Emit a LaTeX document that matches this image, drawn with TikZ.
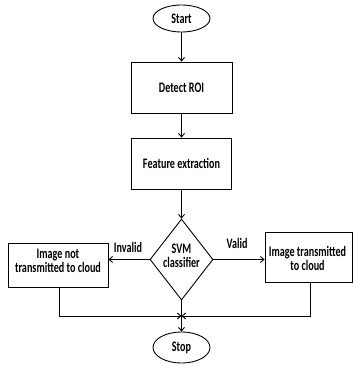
\documentclass[tikz,border=0pt]{standalone}
\usepackage{fontspec}
\setmainfont{Carlito}[FakeStretch=0.7]
\usetikzlibrary{shapes.geometric,arrows.meta}
\tikzset{
  base/.style={draw, line width=0.9pt, inner sep=0pt, align=center,
    font=\fontsize{14.5}{14}\selectfont\bfseries},
  terminal/.style={base, ellipse, minimum width=57pt},
  process/.style={base, rectangle},
  decision/.style={base, diamond, minimum width=63pt, minimum height=81pt},
  txt/.style={inner sep=0pt, align=center, font=\fontsize{14.5}{14}\selectfont\bfseries},
  flow/.style={line width=0.9pt, -{Straight Barb[length=3.5pt,width=6pt]}},
  plain/.style={line width=0.9pt}
}
\begin{document}
\begin{tikzpicture}[x=1pt, y=-1pt]
\useasboundingbox (0,0) rectangle (353,366);

\node[terminal, minimum height=27pt] (start) at (181.5,18.5) {Start};
\node[process, minimum width=101pt, minimum height=51pt] (roi) at (181.5,87.5) {Detect ROI};
\node[process, minimum width=100pt, minimum height=51pt] (feat) at (181.5,163.5) {Feature extraction};
\node[decision] (svm) at (181.5,259.5) {};
\node[txt] (svmtext) at (181.5,256) {SVM\\classifier};
\node[process, minimum width=100pt, minimum height=44pt] (notx) at (58,265) {};
\node[txt] (notxtext) at (58,260.5) {Image not\\transmitted to cloud};
\node[process, minimum width=87pt, minimum height=50pt] (tx) at (308.5,257) {};
\node[txt] (txtext) at (307.5,258.5) {Image transmitted\\to cloud};
\node[terminal, minimum height=31pt] (stop) at (181.5,347.5) {Stop};

\node[txt] (invalid) at (128,247) {Invalid};
\node[txt] (valid) at (237,243) {Valid};

\coordinate (join) at (181.5,316);
\coordinate (lcorner) at (59,316);
\coordinate (rcorner) at (310,316);

\draw[flow] (start) -- (roi);
\draw[flow] (roi) -- (feat);
\draw[flow] (feat) -- (svm.north);
\draw[flow] (svm.west) -- (notx.east |- svm.west);
\draw[flow] (svm.east) -- (tx.west |- svm.east);
\draw[flow] (svm.south) -- (stop.north);
\draw[flow] (notx.south -| lcorner) -- (lcorner) -- (join);
\draw[flow] (tx.south -| rcorner) -- (rcorner) -- (join);
\end{tikzpicture}
\end{document}
